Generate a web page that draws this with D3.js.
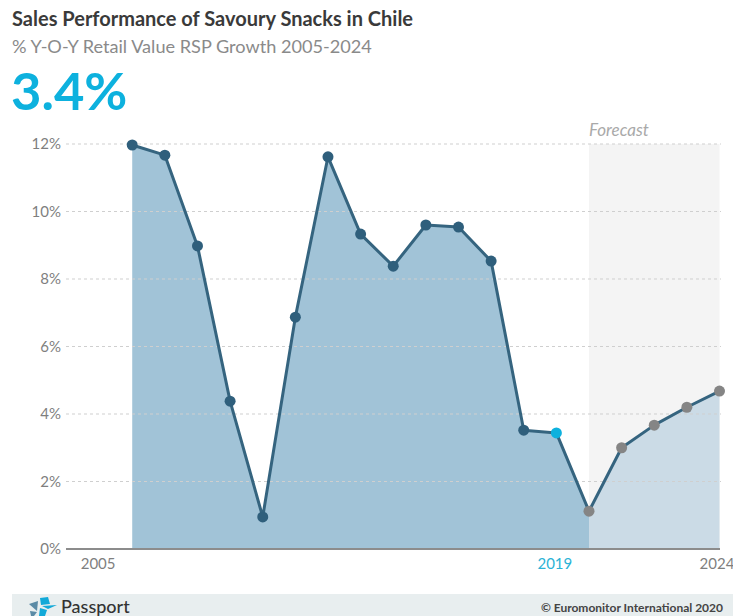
<!DOCTYPE html>
<html><head><meta charset="utf-8">
<script src="https://cdnjs.cloudflare.com/ajax/libs/d3/7.8.5/d3.min.js"></script>
<style>html,body{margin:0;padding:0;background:#fff;overflow:hidden}svg{display:block;font-family:Lato,sans-serif}</style>
</head><body><svg id="c" width="733" height="616"></svg>
<script>
const years=[2006,2007,2008,2009,2010,2011,2012,2013,2014,2015,2016,2017,2018,2019,2020,2021,2022,2023,2024];
const growth=[11.97,11.67,8.98,4.38,0.95,6.87,11.62,9.33,8.38,9.6,9.54,8.53,3.52,3.44,1.12,3.0,3.67,4.2,4.68];
const yTicks=[0,2,4,6,8,10,12];
const xTickYears=[2005,2019,2024];
const currentYear=2019, lastActual=2020;

const svg=d3.select("#c");
const x=d3.scaleLinear().domain([2005,2024]).range([99.6,719.5]);
const y=d3.scaleLinear().domain([0,12]).range([549,144]);
const pts=years.map((yr,i)=>({yr,v:growth[i]}));
const actual=pts.filter(d=>d.yr<=lastActual), forecast=pts.filter(d=>d.yr>=lastActual);

// header
svg.append("text").attr("x",12).attr("y",25.5).attr("font-size",20).attr("font-weight",700).attr("fill","#3a3a3a").text("Sales Performance of Savoury Snacks in Chile");
svg.append("text").attr("x",12).attr("y",52.5).attr("font-size",18.15).attr("fill","#8a8a8a").text("% Y-O-Y Retail Value RSP Growth 2005-2024");
svg.append("text").attr("x",11).attr("y",110).attr("font-size",52.5).attr("font-weight",700).attr("fill","#0db1de").text("3.4%");

// forecast band
svg.append("rect").attr("x",x(lastActual)).attr("y",y(12)).attr("width",x(2024)-x(lastActual)).attr("height",y(0)-y(12)).attr("fill","#f4f4f4");
svg.append("text").attr("x",x(lastActual)).attr("y",136).attr("font-size",17).attr("font-style","italic").attr("fill","#a9a9a9").text("Forecast");

// areas
const area=d3.area().x(d=>x(d.yr)).y0(y(0)).y1(d=>y(d.v));
svg.append("path").attr("d",area(actual)).attr("fill","#a1c3d7");
svg.append("path").attr("d",area(forecast)).attr("fill","#cbdbe6");

// gridlines
svg.append("g").selectAll("line").data(yTicks.filter(t=>t>0)).join("line")
 .attr("x1",66).attr("x2",721).attr("y1",d=>y(d)).attr("y2",d=>y(d))
 .attr("stroke","#cfcfcf").attr("stroke-width",1).attr("stroke-dasharray","3 3");

// y axis
const yAxis=d3.axisLeft(y).tickValues(yTicks).tickFormat(d=>d+"%").tickSize(0).tickPadding(5);
const gy=svg.append("g").attr("transform","translate(66,0)").call(yAxis);
gy.select(".domain").remove();
gy.selectAll("text").attr("font-size",15).attr("font-family","Lato,sans-serif").attr("fill","#7f7f7f");

// baseline
svg.append("line").attr("x1",66).attr("x2",720).attr("y1",y(0)).attr("y2",y(0)).attr("stroke","#8c8c8c").attr("stroke-width",2);

// x axis
const xAxis=d3.axisBottom(x).tickValues(xTickYears).tickFormat(d3.format("d")).tickSize(0).tickPadding(9);
const gx=svg.append("g").attr("transform",`translate(0,${y(0)})`).call(xAxis);
gx.select(".domain").remove();
gx.selectAll("text").attr("font-size",15).attr("font-family","Lato,sans-serif")
 .attr("fill",d=>d===currentYear?"#2bb3d6":"#7f7f7f")
 .attr("dx",d=>d===2005?-2:(d===2024?-3:-2));

// line + points
const line=d3.line().x(d=>x(d.yr)).y(d=>y(d.v));
svg.append("path").attr("d",line(pts)).attr("fill","none").attr("stroke","#35647f").attr("stroke-width",3).attr("stroke-linejoin","round");
svg.append("g").selectAll("circle").data(pts).join("circle")
 .attr("cx",d=>x(d.yr)).attr("cy",d=>y(d.v)).attr("r",5.5)
 .attr("fill",d=>d.yr===currentYear?"#0db1de":(d.yr>=lastActual?"#858585":"#2f5f7c"));

// footer
svg.append("rect").attr("x",12).attr("y",594).attr("width",721).attr("height",22).attr("fill","#e8eeef");
const logo=svg.append("g");
logo.append("path").attr("d","M29 604 L38 601 L37 611 Z").attr("fill","#5b8ba6");
logo.append("path").attr("d","M30 611 L37 612 L34 616 L31 616 Z").attr("fill","#5b8ba6");
logo.append("path").attr("d","M40 598 L48 597 L50 604 L41 605 Z").attr("fill","#12a9d8");
logo.append("path").attr("d","M42 606 L57 605 L48 609 Z").attr("fill","#12a9d8");
logo.append("path").attr("d","M40 608 L47 610 L45 616 L39 616 Z").attr("fill","#12a9d8");
svg.append("text").attr("x",61).attr("y",613).attr("font-size",18).attr("font-weight",500).attr("fill","#333").text("Passport");
svg.append("text").attr("x",723).attr("y",612).attr("text-anchor","end").attr("font-size",12).attr("font-weight",700).attr("fill","#444").text("© Euromonitor International 2020");
</script></body></html>
